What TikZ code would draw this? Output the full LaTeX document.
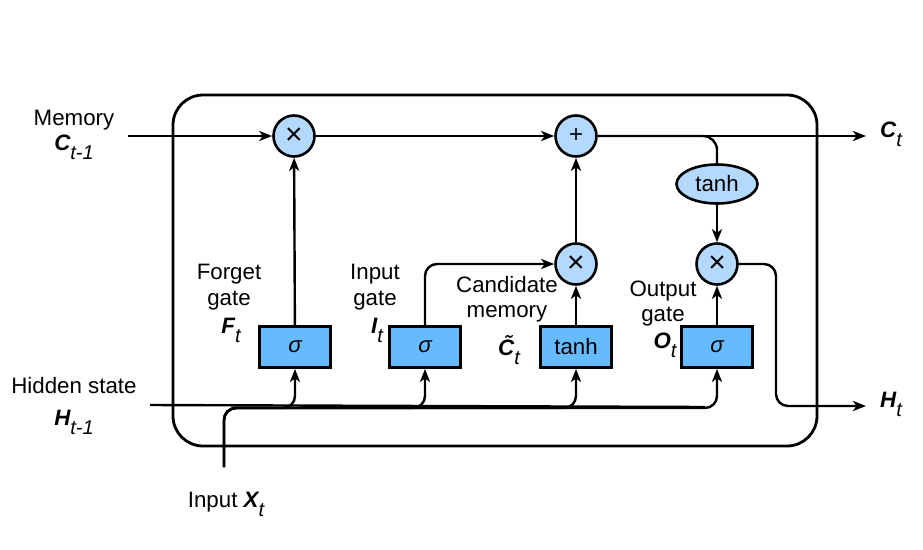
\documentclass[tikz,border=0pt]{standalone}
\usepackage{fontspec}
\setmainfont{Liberation Sans}
\usetikzlibrary{arrows.meta,shapes.geometric}
\definecolor{lightb}{HTML}{B3D9FF}
\definecolor{boxb}{HTML}{66BBFF}
\newcommand{\vsym}[2]{{\bfseries\itshape #1}\raisebox{-9pt}{\fontsize{20}{22}\selectfont\itshape #2}}
\begin{document}
\begin{tikzpicture}[x=1pt,y=-1pt, font=\fontsize{22.3}{26}\selectfont,
 conn/.style={line width=2.4pt, -{Stealth[length=13pt,width=10pt,inset=3.5pt]}},
 plain/.style={line width=2.4pt},
 opc/.style={circle, draw, line width=2.6pt, fill=lightb, minimum size=41pt, inner sep=0pt, font=\fontsize{30}{30}\selectfont},
 gatebox/.style={rectangle, draw, line width=2.8pt, fill=boxb, minimum width=71pt, minimum height=41pt, inner sep=0pt},
 ell/.style={ellipse, draw, line width=2.6pt, fill=lightb, minimum width=81pt, minimum height=39pt, inner sep=0pt},
 lbl/.style={inner sep=0pt, anchor=base}]
\useasboundingbox (0,0) rectangle (923,549);
\draw[line width=2.8pt, rounded corners=30pt] (173,95) rectangle (817,446);

\node[opc] (m1) at (294,136) {×};
\node[opc] (pl) at (576,136) {\fontsize{24}{24}\selectfont +};
\node[opc] (m2) at (576,264) {×};
\node[opc] (m3) at (717,264) {×};
\node[ell] (th) at (717,184) {tanh};
\node[gatebox] (fg) at (295,347) {\itshape σ};
\node[gatebox] (ig) at (425,347) {\itshape σ};
\node[gatebox] (cg) at (576,347) {tanh};
\node[gatebox] (og) at (717,347) {\itshape σ};

\coordinate (cin) at (128,136);
\coordinate (cout) at (866,136);
\coordinate (hin) at (150,405);
\coordinate (hout) at (866,406);
\coordinate (xin) at (224,467);

\draw[conn] (cin) -- (m1);
\draw[conn] (m1) -- (pl);
\draw[conn] (pl) -- (cout);
\draw[plain, rounded corners=14pt] (pl.east) -- (717,136) -- (th.north);
\draw[conn] (th) -- (m3);
\draw[conn] (fg) -- (m1);
\draw[conn, rounded corners=12pt] (ig.north) -- (425,264) -- (m2.west);
\draw[conn] (cg) -- (m2);
\draw[conn] (m2) -- (pl);
\draw[conn] (og) -- (m3);
\draw[conn, rounded corners=12pt] (m3.east) -- (776,264) -- (776,406) -- (hout);

\draw[plain] (hin) -- (705,407);
\draw[conn, rounded corners=12pt] (xin) -- (224,408) -- (295,408) -- (fg.south);
\draw[conn, rounded corners=12pt] (xin) -- (224,408) -- (425,408) -- (ig.south);
\draw[conn, rounded corners=12pt] (xin) -- (224,408) -- (576,408) -- (cg.south);
\draw[conn, rounded corners=12pt] (xin) -- (224,408) -- (717,408) -- (og.south);

\node[lbl] (lmem) at (74,125) {Memory};
\node[lbl] (lc) at (74,150) {\vsym{C}{t-1}};
\node[lbl] (lhid) at (74,393) {Hidden state};
\node[lbl] (lh) at (74,425) {\vsym{H}{t-1}};
\node[lbl] (lx) at (226,507) {Input \vsym{X}{t}};
\node[lbl] (lf1) at (229,279) {Forget};
\node[lbl] (lf2) at (229,305) {gate};
\node[lbl] (lf3) at (231,333) {\vsym{F}{t}};
\node[lbl] (li1) at (375,279) {Input};
\node[lbl] (li2) at (375,305) {gate};
\node[lbl] (li3) at (377,333) {\vsym{I}{t}};
\node[lbl] (lc1) at (507,292) {Candidate};
\node[lbl] (lc2) at (507,317) {memory};
\node[lbl] (lc3) at (509,355) {\vsym{\~{C}}{t}};
\node[lbl] (lo1) at (663,296) {Output};
\node[lbl] (lo2) at (663,321) {gate};
\node[lbl] (lo3) at (665,348) {\vsym{O}{t}};
\node[lbl, anchor=base west] (lct) at (880,137) {\vsym{C}{t}};
\node[lbl, anchor=base west] (lht) at (880,407) {\vsym{H}{t}};
\end{tikzpicture}
\end{document}
